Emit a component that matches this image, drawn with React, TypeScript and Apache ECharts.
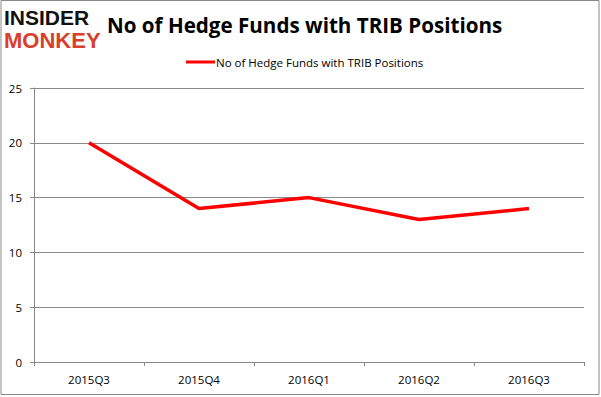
import React, { useEffect, useRef } from "react";
import * as echarts from "echarts";

const categories = ["2015Q3", "2015Q4", "2016Q1", "2016Q2", "2016Q3"];
const hedgeFunds = [20, 14, 15, 13, 14];
const seriesName = "No of Hedge Funds with TRIB Positions";
const titleText = "No of Hedge Funds with TRIB Positions";

export default function App() {
  const ref = useRef<HTMLDivElement>(null);
  useEffect(() => {
    if (!ref.current) return;
    const chart = echarts.init(ref.current, null, { renderer: "svg" });
    chart.setOption({
      animation: false,
      backgroundColor: "#ffffff",
      textStyle: { fontFamily: "'Open Sans', 'Liberation Sans', sans-serif" },
      graphic: [
        {
          type: "rect",
          shape: { x: 1, y: 0.5, width: 598, height: 394 },
          style: { fill: "none", stroke: "#888888", lineWidth: 1 },
          silent: true,
        },
        {
          type: "text",
          left: 4,
          top: 7,
          style: {
            text: "INSIDER",
            fill: "#111111",
            font: "900 21px 'Liberation Sans', sans-serif",
            lineHeight: 21,
          },
        },
        {
          type: "text",
          left: 4,
          top: 29,
          style: {
            text: "MONKEY",
            fill: "#d9402b",
            font: "900 22px 'Liberation Sans', sans-serif",
            lineHeight: 21,
          },
        },
        {
          type: "text",
          left: 107,
          top: 14,
          style: {
            text: titleText,
            fill: "#000000",
            font: "bold 20.6px 'Open Sans', sans-serif",
          },
        },
      ],
      legend: {
        top: 51,
        left: 181,
        itemWidth: 29,
        itemHeight: 3,
        itemGap: 0,
        icon: "rect",
        textStyle: { fontSize: 11.5, color: "#000000", padding: [0, 0, 0, -4] },
        data: [{ name: seriesName, icon: "rect" }],
      },
      grid: { left: 34, right: 17, top: 88, bottom: 35, containLabel: false },
      xAxis: {
        type: "category",
        data: categories,
        boundaryGap: true,
        axisLine: { lineStyle: { color: "#888888", width: 1 } },
        axisTick: { show: true, length: 4, lineStyle: { color: "#888888" } },
        axisLabel: { color: "#000000", fontSize: 11.5, margin: 11 },
      },
      yAxis: {
        type: "value",
        min: 0,
        max: 25,
        interval: 5,
        axisLine: { show: true, lineStyle: { color: "#888888", width: 1 } },
        axisTick: { show: true, length: 4, lineStyle: { color: "#888888" } },
        axisLabel: { color: "#000000", fontSize: 11.5, margin: 12 },
        splitLine: { show: true, lineStyle: { color: "#888888", width: 1 } },
      },
      series: [
        {
          name: seriesName,
          type: "line",
          data: hedgeFunds,
          showSymbol: false,
          symbol: "none",
          itemStyle: { color: "#ff0000" },
          lineStyle: { color: "#ff0000", width: 3.5 },
        },
      ],
    });
    return () => chart.dispose();
  }, []);
  return (
    <div
      ref={ref}
      style={{ position: "fixed", left: 0, top: 0, width: 601, height: 397 }}
    />
  );
}
